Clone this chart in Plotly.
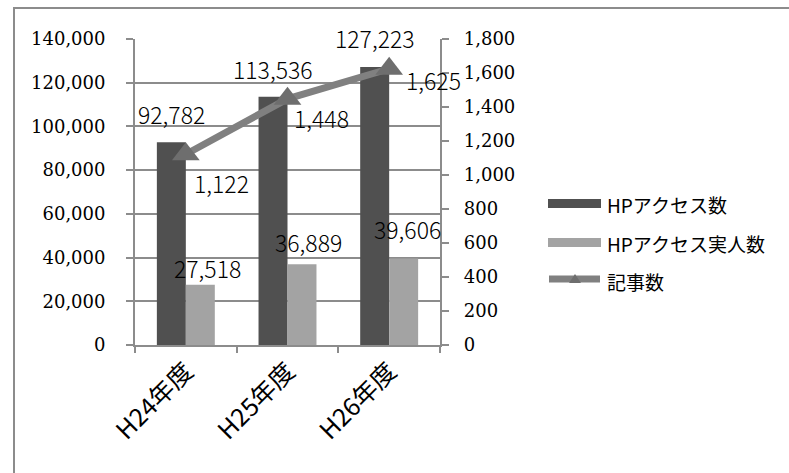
import plotly.graph_objects as go

# ---- data ----
categories = ["H24年度", "H25年度", "H26年度"]
hp_access = [92782, 113536, 127223]      # HPアクセス数 (left axis)
hp_unique = [27518, 36889, 39606]        # HPアクセス実人数 (left axis)
articles = [1122, 1448, 1625]            # 記事数 (right axis)
left_ticks = [0, 20000, 40000, 60000, 80000, 100000, 120000, 140000]
right_ticks = [0, 200, 400, 600, 800, 1000, 1200, 1400, 1600, 1800]
series_names = ["HPアクセス数", "HPアクセス実人数", "記事数"]

# ---- styling / layout constants ----
W, H = 789, 473
L, R, T, B = 135, 440, 39, 345
DARK, LIGHT, LINE, MARK = "#505050", "#a3a3a3", "#808080", "#6e6e6e"
GRID = "#8c8c8c"
SERIF = "DejaVu Serif"
SANS = "Noto Sans CJK JP"
NB = "\u00a0"

# label pixel offsets (x right, y up) relative to the mark
dark_off = [(-14.5, 28), (-15, 28), (-14, 28.5)]
light_off = [(21.5, 17), (20.5, 22), (18.5, 29)]
line_off = [(36, -29), (34, -19), (44, -11)]


def pxx(x):
    return (x - L) / (R - L)


def pxy(y):
    return (B - y) / (B - T)


fig = go.Figure()
fig.add_bar(x=categories, y=hp_access, name=series_names[0],
            marker=dict(color=DARK, line=dict(width=0)), showlegend=False)
fig.add_bar(x=categories, y=hp_unique, name=series_names[1],
            marker=dict(color=LIGHT, line=dict(width=0)), showlegend=False)
fig.add_scatter(x=categories, y=articles, yaxis="y2", name=series_names[2],
                mode="lines+markers",
                line=dict(color=LINE, width=7),
                marker=dict(symbol="triangle-up", size=24, color=MARK),
                showlegend=False)

annotations = []
lab_font = dict(family=SANS, size=23, color="#000000", weight=300)
for c, v, (dx, dy) in zip(categories, hp_access, dark_off):
    annotations.append(dict(x=c, y=v, xref="x", yref="y", text=f"{v:,}",
                            showarrow=False, xshift=dx, yshift=dy,
                            xanchor="center", yanchor="middle", font=lab_font))
for c, v, (dx, dy) in zip(categories, hp_unique, light_off):
    annotations.append(dict(x=c, y=v, xref="x", yref="y", text=f"{v:,}",
                            showarrow=False, xshift=dx, yshift=dy,
                            xanchor="center", yanchor="middle", font=lab_font))
for c, v, (dx, dy) in zip(categories, articles, line_off):
    annotations.append(dict(x=c, y=v, xref="x", yref="y2", text=f"{v:,}",
                            showarrow=False, xshift=dx, yshift=dy,
                            xanchor="center", yanchor="middle", font=lab_font))

# custom legend
leg_font = dict(family=SANS, size=19, color="#000000")
shapes = [
    # chart border
    dict(type="rect", xref="paper", yref="paper",
         x0=pxx(14), x1=pxx(820), y0=pxy(500), y1=pxy(8),
         line=dict(color="#8c8c8c", width=2), fillcolor="rgba(0,0,0,0)", layer="below"),
    dict(type="rect", xref="paper", yref="paper",
         x0=pxx(548), x1=pxx(601), y0=pxy(208), y1=pxy(199),
         line=dict(width=0), fillcolor=DARK),
    dict(type="rect", xref="paper", yref="paper",
         x0=pxx(548), x1=pxx(601), y0=pxy(247), y1=pxy(238),
         line=dict(width=0), fillcolor=LIGHT),
    dict(type="line", xref="paper", yref="paper",
         x0=pxx(549), x1=pxx(600), y0=pxy(279), y1=pxy(279),
         line=dict(color=LINE, width=7)),
    dict(type="path", xref="paper", yref="paper",
         path=f"M {pxx(569)},{pxy(283)} L {pxx(581)},{pxy(283)} L {pxx(575)},{pxy(274)} Z",
         line=dict(width=0), fillcolor=MARK),
]
for name, y in zip(series_names, [204, 243, 281]):
    annotations.append(dict(x=pxx(605), y=pxy(y), xref="paper", yref="paper",
                            text=name, showarrow=False, xanchor="left",
                            yanchor="middle", font=leg_font))

axis_common = dict(showline=True, linecolor=GRID, linewidth=1.5,
                   ticks="outside", tickcolor=GRID, tickwidth=1.5)
serif_tick = dict(family=SERIF, size=18, color="#000000")

fig.update_layout(
    width=W, height=H,
    font=dict(family=SERIF, size=18, color="#000000"),
    margin=dict(l=L, r=W - R, t=T, b=H - B, pad=0),
    paper_bgcolor="white", plot_bgcolor="white",
    barmode="group", bargap=0.43, bargroupgap=0,
    showlegend=False,
    xaxis=dict(type="category", range=[-0.5, 2.5], tickson="boundaries",
               ticklen=6, tickangle=-45, showgrid=False,
               tickfont=dict(family=SANS, size=25, color="#000000"),
               **axis_common),
    yaxis=dict(range=[0, 140000], tickmode="array", tickvals=left_ticks,
               ticktext=[f"{v:,}" + NB * 3 for v in left_ticks],
               showgrid=True, gridcolor=GRID, gridwidth=1.5, zeroline=False,
               ticklen=7, tickfont=serif_tick,
               **axis_common),
    yaxis2=dict(range=[0, 1800], tickmode="array", tickvals=right_ticks,
                ticktext=[NB * 2 + f"{v:,}" for v in right_ticks],
                overlaying="y", side="right", showgrid=False, zeroline=False,
                ticklen=7, tickfont=serif_tick,
                **axis_common),
    annotations=annotations,
    shapes=shapes,
)

fig.write_html("out.html")
